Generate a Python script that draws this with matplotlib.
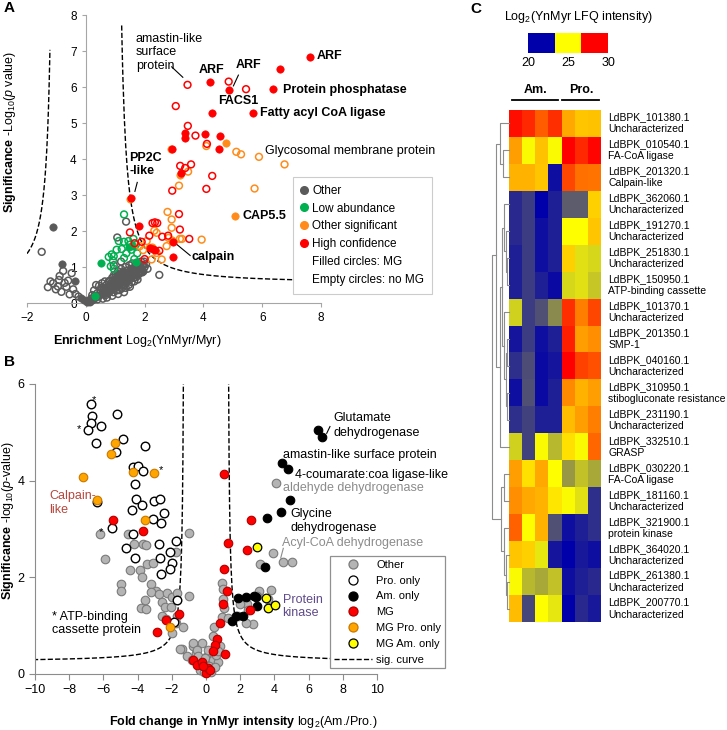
import numpy as np
import matplotlib
matplotlib.use("Agg")
import matplotlib.pyplot as plt
from matplotlib.colors import LinearSegmentedColormap
from matplotlib.lines import Line2D

plt.rcParams['font.family'] = ['Liberation Sans', 'DejaVu Sans']
plt.rcParams['mathtext.fontset'] = 'custom'
plt.rcParams['mathtext.rm'] = 'Liberation Sans'
plt.rcParams['mathtext.it'] = 'Liberation Sans:italic'
plt.rcParams['mathtext.bf'] = 'Liberation Sans:bold'

# ---------------- panel A data: (enrichment log2, -log10 p)
A_other_mg = [(-1.10, 2.12), (-0.81, 1.08), (-0.38, 0.61), (-0.15, 0.13), (-0.05, 0.07),
              (0.05, 0.03), (0.12, 0.05), (0.20, 0.10), (0.55, 0.25), (0.70, 0.38),
              (0.80, 0.45), (0.90, 0.55), (1.00, 0.62), (1.10, 0.50), (1.20, 0.70),
              (1.30, 0.60), (1.40, 0.85), (1.50, 0.75), (1.60, 0.95), (1.85, 0.98),
              (0.65, 0.28), (1.05, 0.80), (1.25, 0.90), (1.70, 0.78), (1.95, 0.90)]
A_other_nomg = [(-1.50, 1.42), (-1.29, 0.44), (-1.20, 0.60), (-1.11, 0.55), (-1.02, 0.38),
                (-0.95, 0.46), (-0.91, 0.64), (-0.89, 0.75), (-0.83, 0.31), (-0.77, 0.89),
                (-0.72, 0.56), (-0.66, 0.45), (-0.60, 0.62), (-0.55, 0.24), (-0.48, 0.83),
                (-0.43, 0.38), (-0.35, 0.25), (-0.25, 0.18),
                (0.10, 0.05), (0.18, 0.12), (0.25, 0.08), (0.30, 0.20), (0.35, 0.15), (0.40, 0.28),
                (0.45, 0.20), (0.50, 0.35), (0.55, 0.25), (0.60, 0.42), (0.62, 0.30), (0.68, 0.22),
                (0.70, 0.50), (0.75, 0.38), (0.78, 0.60), (0.80, 0.30), (0.85, 0.45), (0.88, 0.55),
                (0.90, 0.70), (0.95, 0.40), (0.98, 0.62), (1.00, 0.50), (1.02, 0.78), (1.05, 0.35),
                (1.08, 0.60), (1.10, 0.88), (1.12, 0.48), (1.15, 0.70), (1.18, 0.55), (1.20, 0.95),
                (1.22, 0.40), (1.25, 0.75), (1.28, 0.62), (1.30, 0.85), (1.32, 0.50), (1.35, 1.00),
                (1.38, 0.70), (1.40, 0.58), (1.42, 0.90), (1.45, 0.78), (1.48, 1.05), (1.50, 0.65),
                (1.52, 0.88), (1.55, 0.72), (1.58, 1.10), (1.60, 0.80), (1.62, 0.95), (1.65, 0.60),
                (1.68, 1.02), (1.70, 0.85), (1.72, 0.72), (1.75, 1.12), (1.78, 0.92), (1.80, 0.80),
                (1.82, 1.00), (1.85, 0.88), (1.88, 1.15), (1.90, 0.95), (1.95, 1.05), (2.00, 1.00),
                (0.55, 0.55), (0.45, 0.48), (0.65, 0.60), (0.35, 0.50), (0.72, 0.15), (0.90, 0.20),
                (1.10, 0.25), (1.30, 0.30), (1.50, 0.45), (0.58, 0.12), (1.07, 1.82), (1.37, 2.26),
                (2.50, 0.78), (1.20, 1.15), (0.95, 1.05),
                (0.40, 0.10), (0.52, 0.42), (0.66, 0.35), (0.74, 0.28), (0.82, 0.62), (0.86, 0.35),
                (0.94, 0.30), (0.96, 0.78), (1.04, 0.68), (1.14, 0.36), (1.16, 0.82), (1.24, 0.52),
                (1.34, 0.78), (1.36, 0.42), (1.44, 0.66), (1.46, 0.50), (1.54, 0.95), (1.56, 0.58),
                (1.64, 0.70), (1.66, 0.88), (1.74, 0.95), (1.76, 0.65), (1.84, 1.08), (1.92, 0.85),
                (1.98, 1.15), (2.05, 1.08), (2.10, 0.95), (0.28, 0.35), (0.22, 0.22), (0.15, 0.02)]
A_low_mg = [(0.51, 1.12), (0.31, 0.20), (1.61, 1.58), (1.70, 1.13), (1.48, 1.55)]
A_low_nomg = [(1.30, 2.46), (1.12, 1.72), (1.30, 1.70), (1.45, 1.72), (1.62, 1.78), (1.05, 1.48),
              (1.22, 1.50), (1.38, 1.38), (1.55, 1.48), (1.75, 1.38), (0.88, 1.35), (0.78, 1.28),
              (0.95, 1.30), (0.92, 1.18), (1.70, 1.62), (1.50, 1.62), (0.85, 1.02), (0.95, 0.95),
              (1.30, 1.25), (1.65, 1.22)]
A_sig_mg = [(4.78, 4.45), (5.06, 2.43), (2.90, 4.27), (3.22, 3.55), (1.50, 2.88), (2.93, 1.75),
            (2.25, 1.55)]
A_sig_nomg = [(5.12, 4.20), (5.28, 4.13), (5.89, 4.06), (6.76, 3.85), (5.74, 3.18), (3.48, 3.65),
              (3.17, 3.26), (4.10, 4.36), (2.78, 2.53), (2.92, 2.32), (2.92, 2.09), (3.20, 1.78),
              (3.27, 1.78), (3.94, 1.76), (2.41, 1.95), (2.07, 1.72), (1.84, 1.58), (2.18, 1.53),
              (2.24, 1.21), (2.58, 1.21), (2.75, 1.58), (2.33, 2.01), (1.95, 1.47), (2.41, 1.39),
              (2.81, 1.81)]
A_hc_mg = [(7.61, 6.84), (6.62, 6.49), (6.38, 5.94), (4.21, 6.15), (4.86, 5.92), (4.29, 5.29),
           (5.68, 5.27), (3.36, 4.71), (3.37, 4.57), (4.06, 4.69), (4.55, 4.64), (4.53, 4.28),
           (2.92, 4.29), (3.24, 3.62), (1.54, 2.92), (1.81, 2.14), (2.27, 1.49), (2.35, 1.47),
           (2.20, 1.52), (2.97, 1.70), (2.97, 1.28)]
A_hc_nomg = [(3.46, 6.06), (4.86, 6.15), (5.45, 5.94), (3.06, 5.47), (3.47, 4.92), (3.73, 4.65),
             (4.12, 4.42), (3.21, 3.81), (3.58, 3.85), (3.38, 3.75), (4.30, 3.53), (2.94, 3.12),
             (4.10, 3.17), (3.17, 2.47), (2.27, 2.22), (2.35, 2.24), (2.43, 2.22), (3.20, 2.04),
             (3.52, 1.78), (2.16, 1.87), (2.60, 1.84), (2.80, 1.87), (1.50, 1.96), (2.00, 1.22),
             (1.66, 1.66), (2.50, 1.45), (1.90, 1.70)]

# ---------------- panel B data: (log2 Am./Pro., -log10 p)
B_other = [(-6.20, 2.89), (-5.91, 2.37), (-5.00, 1.86), (-5.00, 1.72), (-4.58, 2.90), (-4.44, 2.15),
           (-4.19, 2.70), (-3.86, 2.15), (-3.70, 2.70), (-3.74, 2.01), (-3.51, 2.66), (-3.43, 2.28),
           (-3.11, 2.29), (-3.23, 1.87), (-2.92, 1.72), (-3.23, 1.70), (-2.72, 1.65), (-2.59, 1.50),
           (-2.30, 1.68), (-2.01, 1.60), (-1.72, 1.68), (-1.75, 2.53), (-0.97, 2.92), (-0.97, 1.61),
           (-3.57, 1.54), (-3.82, 1.36), (-3.51, 1.34), (-2.40, 1.38), (-2.07, 1.38), (-1.68, 1.19),
           (-2.57, 1.20), (-2.34, 1.13), (-2.01, 0.84), (-1.42, 0.51), (-1.13, 0.37), (-0.60, 0.43),
           (-0.78, 0.57), (-1.75, 1.05), (-1.36, 0.98), (-0.21, 0.64), (-0.02, 0.35), (-0.41, 0.28),
           (-0.80, 0.28), (-1.52, 0.52), (-0.74, 0.64), (-0.55, 0.49), (-0.45, 0.37), (-0.06, 0.33),
           (0.43, 0.30), (0.72, 0.24), (0.58, 0.40), (0.82, 0.57), (0.43, 0.79), (0.49, 0.98),
           (0.92, 1.88), (0.97, 1.76), (1.01, 1.55), (1.05, 1.36), (0.92, 1.18), (1.31, 1.16),
           (0.68, 0.47), (0.14, 0.50), (-0.25, 0.19), (-0.35, 0.09), (0.19, 0.16), (0.30, 0.05),
           (-0.10, 0.05), (0.55, 0.15), (4.07, 3.95), (3.90, 2.51), (4.48, 2.31), (5.03, 2.31),
           (3.16, 2.28), (3.12, 1.72), (3.78, 1.74), (2.96, 1.62), (2.38, 1.45), (2.48, 1.32),
           (2.77, 1.03), (2.34, 1.05), (1.89, 1.19), (1.99, 1.45), (3.65, 1.55)]
B_pro_only = [(-6.74, 5.58), (-6.65, 5.34), (-6.74, 5.20), (-6.88, 5.05), (-6.16, 5.13), (-6.43, 4.77),
              (-5.19, 5.37), (-4.83, 4.86), (-5.26, 4.60), (-3.57, 4.72), (-4.29, 4.28), (-4.00, 4.30),
              (-3.70, 4.19), (-4.15, 3.93), (-4.11, 3.62), (-3.76, 3.50), (-4.35, 3.40), (-3.04, 3.57),
              (-2.69, 3.62), (-2.44, 3.33), (-3.08, 3.21), (-2.61, 3.13), (-5.52, 3.03), (-6.39, 3.55),
              (-4.25, 2.89), (-2.73, 2.69), (-1.77, 2.75), (-2.10, 2.52), (-4.70, 2.60), (-4.15, 2.41),
              (-2.67, 2.41), (-2.00, 2.29), (-2.10, 2.18), (-2.63, 2.07), (-1.68, 1.54), (-1.87, 1.07)]
B_am_only = [(6.57, 5.05), (6.80, 4.90), (4.42, 4.36), (4.81, 4.24), (4.91, 3.59), (4.39, 3.35),
             (3.55, 3.22), (3.45, 2.21), (1.85, 1.58), (2.34, 1.60), (2.80, 1.62), (2.95, 1.60),
             (3.00, 1.40), (1.54, 1.10), (1.75, 1.20), (2.14, 1.19)]
B_mg = [(1.05, 4.14), (1.31, 2.72), (1.05, 2.18), (1.21, 1.71), (0.97, 1.45), (0.82, 1.05),
        (0.62, 0.73), (0.53, 0.61), (0.43, 0.48), (1.11, 0.42), (2.61, 3.18), (2.38, 2.56),
        (2.57, 1.32), (-5.42, 3.18), (-3.66, 2.95), (-1.58, 1.25), (-2.36, 1.11), (-2.88, 0.86),
        (-0.78, 0.30), (-0.55, 0.19), (-0.23, 0.24), (0.00, 0.02), (0.14, 0.12), (0.23, 0.08),
        (-0.16, 0.16)]
B_mg_pro = [(-7.17, 4.08), (-5.32, 4.77), (-5.58, 4.55), (-4.25, 4.17), (-3.04, 4.15), (-6.35, 3.59),
            (-3.59, 3.18), (-2.10, 0.97)]
B_mg_am = [(2.96, 2.63), (3.49, 1.58), (3.61, 1.36), (4.04, 1.42)]
B_star = [(-6.55, 5.67), (-7.41, 5.06), (-2.65, 4.22), (-6.14, 2.93)]

# ---------------- panel C data
C_ids = ["LdBPK_101380.1", "LdBPK_010540.1", "LdBPK_201320.1", "LdBPK_362060.1", "LdBPK_191270.1",
         "LdBPK_251830.1", "LdBPK_150950.1", "LdBPK_101370.1", "LdBPK_201350.1", "LdBPK_040160.1",
         "LdBPK_310950.1", "LdBPK_231190.1", "LdBPK_332510.1", "LdBPK_030220.1", "LdBPK_181160.1",
         "LdBPK_321900.1", "LdBPK_364020.1", "LdBPK_261380.1", "LdBPK_200770.1"]
C_names = ["Uncharacterized", "FA-CoA ligase", "Calpain-like", "Uncharacterized", "Uncharacterized",
           "Uncharacterized", "ATP-binding cassette", "Uncharacterized", "SMP-1", "Uncharacterized",
           "stibogluconate resistance", "Uncharacterized", "GRASP", "FA-CoA ligase", "Uncharacterized",
           "protein kinase", "Uncharacterized", "Uncharacterized", "Uncharacterized"]
C_am = [[29.7, 29.2, 28.2, 29.1], [26.9, 24.9, 26.2, 24.9], [26.5, 26.5, 26.1, 20.3],
        [20.8, 21.2, 20.0, 20.6], [20.8, 21.2, 20.3, 20.6], [20.6, 21.2, 20.3, 20.6],
        [20.6, 21.2, 20.6, 20.2], [24.1, 21.2, 21.6, 22.7], [20.4, 21.2, 20.3, 20.6],
        [20.9, 21.5, 20.2, 20.4], [20.3, 21.6, 20.2, 20.6], [20.9, 21.3, 20.6, 20.6],
        [24.1, 21.3, 24.9, 23.6], [26.9, 25.6, 26.7, 25.0], [27.2, 26.7, 26.5, 25.5],
        [28.1, 25.0, 26.5, 21.6], [26.1, 25.9, 24.5, 20.4], [24.9, 23.6, 23.3, 23.8],
        [26.3, 21.4, 25.0, 24.5]]
C_pro = [[26.7, 26.1, 26.2], [30.0, 29.2, 29.9], [28.6, 27.8, 27.7], [21.8, 21.8, 25.9],
         [25.0, 25.0, 26.1], [25.9, 24.4, 24.2], [24.2, 24.4, 23.9], [29.1, 27.5, 28.6],
         [29.4, 26.9, 27.2], [30.0, 28.7, 28.4], [27.3, 26.5, 26.9], [26.3, 26.9, 27.5],
         [25.6, 24.9, 28.0], [23.0, 23.8, 23.3], [24.9, 24.4, 20.9], [20.3, 20.6, 20.9],
         [20.0, 20.5, 20.3], [20.3, 20.6, 20.8], [20.0, 20.8, 20.5]]
# row clustering: (node a, node b, height); leaves are 0..18
C_links = [(1, 2, 0.35), (0, 19, 0.55), (5, 6, 0.10), (4, 21, 0.18), (3, 22, 0.30),
           (8, 9, 0.12), (10, 11, 0.10), (24, 25, 0.20), (7, 26, 0.30), (23, 27, 0.40),
           (28, 12, 0.55), (20, 29, 0.75), (13, 14, 0.30), (17, 18, 0.12), (16, 32, 0.20),
           (15, 33, 0.30), (31, 34, 0.45), (30, 35, 1.00)]

W, H = 727, 730
fig = plt.figure(figsize=(W / 100, H / 100), dpi=100)


def px_axes(l, t, r, b):
    return fig.add_axes([l / W, 1 - b / H, (r - l) / W, (b - t) / H])


def dots(ax, pts, face, edge, s, lw, z=3):
    xs = [p[0] for p in pts]
    ys = [p[1] for p in pts]
    ax.scatter(xs, ys, s=s, facecolors=face, edgecolors=edge, linewidths=lw, zorder=z, clip_on=False)


def sig_curve(x, x0, c, y0, p):
    return y0 + c / (np.abs(x) - x0) ** p


# ================= A
GRAY_A, GREEN, ORANGE, RED = '#5a5a5a', '#00b050', '#ff8c1a', '#ff0000'
axA = px_axes(27, 15, 321, 303)
axA.set_xlim(-2, 8)
axA.set_ylim(0, 8)
for sp in ['top', 'right']:
    axA.spines[sp].set_visible(False)
axA.spines['left'].set_position(('data', 0))
for sp in ['left', 'bottom']:
    axA.spines[sp].set_color('#a6a6a6')
axA.tick_params(colors='#a6a6a6', labelcolor='black', labelsize=8.5, length=3)
axA.set_xticks(range(-2, 9, 2))
axA.set_yticks(range(0, 9))

xr = np.linspace(1.22, 8, 300)
axA.plot(xr, sig_curve(xr, 1.0, 1.0, 0.55, 1.3), ls='--', color='black', lw=1.0, zorder=2)
xl = np.linspace(-2, -1.22, 200)
axA.plot(xl, sig_curve(xl, 1.02, 0.8, 0.55, 1.3), ls='--', color='black', lw=1.0, zorder=2)

dots(axA, A_other_nomg, 'none', GRAY_A, 24, 1.1)
dots(axA, A_other_mg, GRAY_A, GRAY_A, 28, 0.5)
dots(axA, A_low_nomg, 'none', GREEN, 24, 1.1)
dots(axA, A_low_mg, GREEN, GREEN, 28, 0.5)
dots(axA, A_sig_nomg, 'none', ORANGE, 24, 1.1)
dots(axA, A_sig_mg, ORANGE, ORANGE, 28, 0.5)
dots(axA, A_hc_nomg, 'none', RED, 24, 1.1)
dots(axA, A_hc_mg, RED, RED, 28, 0.5)

fs = 9
axA.text(1.7, 7.5, "amastin-like\nsurface\nprotein", fontsize=fs, va='top', linespacing=1.15)
axA.plot([2.92, 3.3], [6.56, 6.27], color='black', lw=0.8)
axA.text(4.26, 6.48, "ARF", fontsize=fs, fontweight='bold', ha='center', va='center')
axA.text(5.52, 6.62, "ARF", fontsize=fs, fontweight='bold', ha='center', va='center')
axA.plot([5.19, 5.02], [6.33, 6.03], color='black', lw=0.8)
axA.text(7.86, 6.86, "ARF", fontsize=fs, fontweight='bold', va='center')
axA.text(6.7, 5.93, "Protein phosphatase", fontsize=fs, fontweight='bold', va='center')
axA.text(5.18, 5.6, "FACS1", fontsize=fs, fontweight='bold', ha='center', va='center')
axA.text(5.93, 5.27, "Fatty acyl CoA ligase", fontsize=fs, fontweight='bold', va='center')
axA.text(6.1, 4.21, "Glycosomal membrane protein", fontsize=fs, va='center')
axA.text(1.48, 3.85, "PP2C\n-like", fontsize=fs, fontweight='bold', va='center', linespacing=1.2)
axA.plot([1.75, 1.67], [3.35, 3.1], color='black', lw=0.8)
axA.text(5.34, 2.43, "CAP5.5", fontsize=fs, fontweight='bold', va='center')
axA.text(3.6, 1.29, "calpain", fontsize=fs, fontweight='bold', va='center')
axA.plot([3.09, 3.55], [1.63, 1.32], color='black', lw=0.8)

axA.set_ylabel(r"$\mathbf{Significance}$ -Log$_{10}$($p$ value)", fontsize=9)
axA.yaxis.set_label_coords(-0.032, 0.594)
axA.set_xlabel(r"$\mathbf{Enrichment}$ Log$_2$(YnMyr/Myr)", fontsize=9)
axA.xaxis.set_label_coords(0.374, -0.103)

hA = [Line2D([], [], marker='o', ls='none', color=c, markersize=5.5) for c in [GRAY_A, GREEN, ORANGE, RED]]
hA += [Line2D([], [], ls='none'), Line2D([], [], ls='none')]
legA = axA.legend(hA, ["Other", "Low abundance", "Other significant", "High confidence",
                       "Filled circles: MG", "Empty circles: no MG"],
                  loc='upper left', bbox_to_anchor=(293 / W, 1 - 177 / H), bbox_transform=fig.transFigure,
                  fontsize=8.5, frameon=True, fancybox=False, edgecolor='#cccccc', framealpha=1,
                  handlelength=0.6, handletextpad=0.4, labelspacing=0.5, borderpad=0.65, borderaxespad=0)
legA.get_frame().set_linewidth(0.8)
legA.set_zorder(10)

# ================= B
GRAY_B, GRAY_B_EDGE = '#b4b4b4', '#7a7a7a'
axB = px_axes(35, 384, 377, 674)
axB.set_xlim(-10, 10)
axB.set_ylim(0, 6)
for sp in ['top', 'right']:
    axB.spines[sp].set_visible(False)
for sp in ['left', 'bottom']:
    axB.spines[sp].set_color('#8c8c8c')
axB.tick_params(colors='#8c8c8c', labelcolor='black', labelsize=9, length=4)
axB.set_xticks(range(-10, 11, 2))
axB.set_yticks([0, 2, 4, 6])

xbr = np.linspace(1.32, 10, 300)
axB.plot(xbr, sig_curve(xbr, 1.25, 0.42, 0.25, 1.0), ls='--', color='black', lw=1.0, zorder=2)
axB.plot(-xbr, sig_curve(-xbr, 1.25, 0.42, 0.25, 1.0), ls='--', color='black', lw=1.0, zorder=2)

sB = 38
dots(axB, B_other, GRAY_B, GRAY_B_EDGE, sB, 0.8)
dots(axB, B_pro_only, 'white', 'black', sB, 1.0)
dots(axB, B_am_only, 'black', 'black', sB, 0.8)
dots(axB, B_mg, RED, '#b00000', sB, 0.8)
dots(axB, B_mg_pro, '#ffa500', '#c87800', sB, 0.8)
dots(axB, B_mg_am, '#ffff00', 'black', sB, 0.9)
for sx, sy in B_star:
    axB.text(sx, sy, "*", fontsize=8, ha='center', va='center')

axB.text(7.45, 5.29, "Glutamate", fontsize=fs, va='center')
axB.text(7.45, 4.99, "dehydrogenase", fontsize=fs, va='center')
axB.plot([7.06, 7.25], [4.98, 5.12], color='black', lw=0.8)
axB.text(4.52, 4.53, "amastin-like surface protein", fontsize=fs, va='center')
axB.text(5.2, 4.12, "4-coumarate:coa ligase-like", fontsize=fs, va='center')
axB.text(4.48, 3.84, "aldehyde dehydrogenase", fontsize=fs, va='center', color='#8c8c8c')
axB.text(4.95, 3.31, "Glycine", fontsize=fs, va='center')
axB.text(4.95, 3.02, "dehydrogenase", fontsize=fs, va='center')
axB.text(4.42, 2.72, "Acyl-CoA dehydrogenase", fontsize=fs, va='center', color='#8c8c8c')
axB.plot([4.52, 4.37], [2.6, 2.4], color='#8c8c8c', lw=0.8)
axB.text(4.48, 1.39, "Protein\nkinase", fontsize=fs, va='center', color='#5f4b8b', linespacing=1.15)
axB.text(-9.18, 3.54, "Calpain-\nlike", fontsize=fs, va='center', color='#b5473d', linespacing=1.15)
axB.text(-9.03, 1.05, "* ATP-binding\ncassette protein", fontsize=fs, va='center', linespacing=1.15)

axB.set_ylabel(r"$\mathbf{Significance}$ -log$_{10}$($p$-value)", fontsize=9)
axB.yaxis.set_label_coords(-0.056, 0.53)
axB.set_xlabel(r"$\mathbf{Fold\ change\ in\ YnMyr\ intensity}$ log$_2$(Am./Pro.)", fontsize=9)
axB.xaxis.set_label_coords(0.608, -0.138)

hB = [Line2D([], [], marker='o', ls='none', markerfacecolor=f, markeredgecolor=e, markersize=6.5, markeredgewidth=0.9)
      for f, e in [(GRAY_B, GRAY_B_EDGE), ('white', 'black'), ('black', 'black'), (RED, '#b00000'),
                   ('#ffa500', '#c87800'), ('#ffff00', 'black')]]
hB.append(Line2D([], [], ls='--', color='black', lw=1.0))
legB = axB.legend(hB, ["Other", "Pro. only", "Am. only", "MG", "MG Pro. only", "MG Am. only", "sig. curve"],
                  loc='upper left', bbox_to_anchor=(330 / W, 1 - 556 / H), bbox_transform=fig.transFigure,
                  fontsize=8, frameon=True, fancybox=False, edgecolor='#909090', framealpha=1,
                  handlelength=3.4, handletextpad=0.4, labelspacing=0.52, borderpad=0.35, borderaxespad=0)
legB.get_frame().set_linewidth(0.9)
legB.set_zorder(10)

# ================= C
cmap = LinearSegmentedColormap.from_list("byr", ["#0000aa", "#ffff00", "#ff0000"])
vals = np.hstack([np.array(C_am), np.array(C_pro)])
nrow, ncol = vals.shape
axC = px_axes(509, 110, 601, 622)
axC.imshow(vals, cmap=cmap, vmin=20, vmax=30, aspect='auto', interpolation='nearest')
axC.set_xticks([])
axC.set_yticks([])
for sp in axC.spines.values():
    sp.set_visible(False)
for i, (rid, nm) in enumerate(zip(C_ids, C_names)):
    axC.text(1.08, i, rid + "\n" + nm, transform=axC.get_yaxis_transform(), fontsize=7.5,
             va='center', ha='left', linespacing=1.25)
axC.text(1.48, -1.25, "Am.", fontsize=9, fontweight='bold', ha='center', va='center')
axC.text(4.98, -1.25, "Pro.", fontsize=9, fontweight='bold', ha='center', va='center')
axC.plot([-0.27, 3.23], [-0.87, -0.87], color='black', lw=1.3, clip_on=False)
axC.plot([3.53, 6.35], [-0.87, -0.87], color='black', lw=1.3, clip_on=False)
axC.set_xlim(-0.5, ncol - 0.5)
axC.set_ylim(nrow - 0.5, -0.5)

# dendrogram
axD = px_axes(492, 110, 509, 622)
axD.axis('off')
pos = {i: (float(i), 0.0) for i in range(nrow)}
for k, (a, b, h) in enumerate(C_links):
    ya, ha = pos[a]
    yb, hb = pos[b]
    axD.plot([ha, h, h, hb], [ya, ya, yb, yb], color='#8c8c8c', lw=0.8, clip_on=False)
    pos[nrow + k] = ((ya + yb) / 2, h)
axD.set_xlim(1, 0)
axD.set_ylim(nrow - 0.5, -0.5)

# colour key
axK = px_axes(528, 33, 608, 53)
axK.imshow([[20, 25, 30]], cmap=cmap, vmin=20, vmax=30, aspect='auto', extent=(20, 30, 0, 1))
axK.set_yticks([])
axK.set_xticks([20, 25, 30])
axK.tick_params(length=0, labelsize=9, pad=3)
for sp in axK.spines.values():
    sp.set_visible(False)
fig.text(578 / W, 1 - 17 / H, r"Log$_2$(YnMyr LFQ intensity)", fontsize=9, ha='center', va='center')

# panel letters
fig.text(4 / W, 1 - 8 / H, "A", fontsize=11, fontweight='bold', va='center')
fig.text(4 / W, 1 - 362 / H, "B", fontsize=11, fontweight='bold', va='center')
fig.text(470 / W, 1 - 9 / H, "C", fontsize=11, fontweight='bold', va='center')

fig.savefig("out.png", dpi=100)
